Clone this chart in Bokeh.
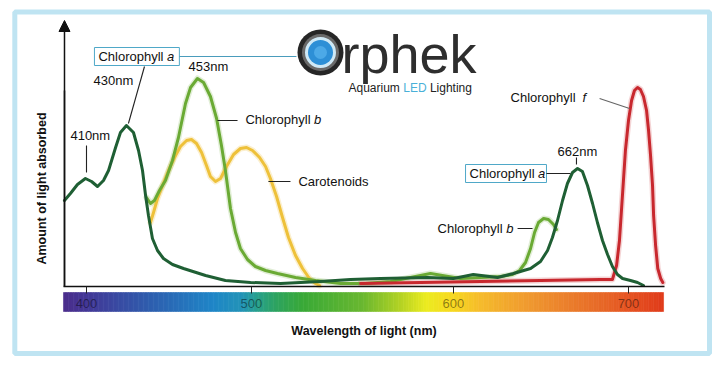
import numpy as np
from bokeh.plotting import figure
from bokeh.models import Range1d, FixedTicker, BoxAnnotation, Arrow, NormalHead
from bokeh.core.properties import value
from bokeh.embed import file_html
from bokeh.resources import INLINE

# ---------------- data (wavelength axis units, absorbance units) ----------------
chl_a_nm = [387.8, 391.1, 395.0, 399.4, 402.8, 406.1, 409.4, 412.2, 416.1, 418.8, 422.1, 426.0,
            428.8, 431.0, 432.7, 434.3, 436.5, 439.3, 442.6, 447.6, 453.7, 465.9, 476.9, 490.8,
            507.4, 529.5, 546.1, 562.7, 588.7, 603.1, 614.1, 627.5, 636.3, 645.8, 651.3, 655.2,
            657.9, 660.7, 663.5, 666.2, 669.0, 671.8, 674.5, 677.3, 680.1, 682.8, 685.6, 688.4,
            691.1, 693.9, 696.7, 701.1, 705.0, 708.3]
chl_a_abs = [43, 46.5, 51, 54, 52.5, 50, 53, 58, 69.5, 77, 80.5, 77,
             68, 58, 45.5, 35.5, 24, 18, 14, 11, 9, 5.5, 3, 2,
             1.5, 2.5, 3.5, 4, 4.5, 4, 6, 4.5, 6.5, 9, 12.5, 18,
             24.5, 33, 43, 51.5, 57, 59, 57.5, 50.5, 41.5, 32, 23, 16,
             10, 6, 4, 3, 2, 0.5]

chl_b_nm = [433.2, 435.4, 437.6, 440.4, 443.7, 447.6, 450.9, 454.8, 457.6, 461.4, 464.8, 468.6,
            472.0, 474.7, 476.9, 479.7, 482.5, 485.2, 489.1, 493.5, 499.1, 505.7, 515.7, 526.8,
            540.6, 554.4, 568.3, 579.3, 590.4, 600.3, 607.0, 618.1, 629.2, 635.8, 639.7, 643.0,
            645.8, 648.0, 650.2, 653.0, 655.7, 658.5, 660.1]
chl_b_abs = [44.5, 41.5, 43, 48, 53, 63, 74.5, 91.5, 99.5, 104, 102, 95,
             84, 70.5, 58, 39, 27, 19, 13.5, 10, 8, 6.5, 4.5, 3,
             1.5, 1.5, 2.5, 4.5, 6.5, 5, 4, 4.5, 5, 6, 8, 12,
             19, 27, 32, 34, 33.5, 31, 28.5]

carot_nm = [435.4, 437.1, 439.3, 442.1, 445.4, 448.7, 452.0, 455.4, 458.1, 460.9, 463.7, 466.4,
            468.6, 471.4, 474.2, 477.5, 481.4, 485.2, 488.6, 491.9, 495.8, 499.1, 501.8, 505.2,
            508.5, 511.8, 515.7, 519.6, 523.4, 526.8, 529.0]
carot_abs = [32, 37, 44, 50.5, 58, 64.5, 70, 73, 73.5, 71.5, 67, 60.5,
             55, 52.5, 54, 60, 66, 69, 69.5, 68, 64.5, 60, 54, 45,
             34.5, 24.5, 15.5, 9, 4, 1.5, 0.5]

chl_f_nm = [551.7, 584.9, 618.1, 651.3, 684.5, 691.1, 693.4, 695.0, 696.1, 697.2, 698.3, 700.0,
            701.7, 703.3, 705.0, 706.6, 708.3, 710.0, 711.1, 712.2, 713.3, 713.9, 715.0, 716.2,
            717.8, 719.0]
chl_f_abs = [1.5, 2, 2.5, 3, 3.5, 3.5, 10.5, 23, 38, 53, 68, 83,
             93, 98, 99.5, 98.5, 95, 88, 78, 65.5, 50.5, 35.5, 20.5, 9,
             4, 2]

tick_pos = [400, 491.3, 603.1, 700]
tick_labels = ["400", "500", "600", "700"]

spec_nm = [387, 400, 435, 470, 486, 494, 505, 520, 553, 575, 588, 603, 618, 646, 684, 700, 720]
spec_col = ["#4d2f8d", "#443897", "#2f5eae", "#1f86c8", "#2394b8", "#28a090", "#2ea460",
            "#3aaa38", "#6ab830", "#b8d424", "#ecec20", "#f8d820", "#f6bc2c", "#f09830",
            "#e86a28", "#e65422", "#e03a1a"]

FONT = "Liberation Sans"
F = value(FONT)

p = figure(width=725, height=371, output_backend="svg", toolbar_location=None,
           x_range=Range1d(352.40, 753.69), y_range=Range1d(-42.5, 143.0),
           min_border=0, min_border_left=0, min_border_right=0, min_border_top=0,
           min_border_bottom=0, outline_line_color=None,
           background_fill_color="white", border_fill_color="white")
p.grid.visible = False

# ---------------- frame border ----------------
p.add_layout(BoxAnnotation(left=360.31, right=744.83, top=137.25, bottom=-33.5,
                           fill_color=None, line_color="#2ba5d3", line_width=5))

# ---------------- spectrum bar ----------------
def hex2rgb(h):
    return np.array([int(h[i:i + 2], 16) for i in (1, 3, 5)], dtype=float)

edges = np.linspace(387.27, 719.4, 241)
mids = (edges[:-1] + edges[1:]) / 2
rgb = np.array([hex2rgb(c) for c in spec_col])
cols = []
for m in mids:
    r = np.interp(m, spec_nm, rgb[:, 0]); g = np.interp(m, spec_nm, rgb[:, 1]); b = np.interp(m, spec_nm, rgb[:, 2])
    cols.append("#%02x%02x%02x" % (int(r), int(g), int(b)))
p.quad(left=edges[:-1], right=edges[1:], top=-3, bottom=-12.5, fill_color=cols, line_color=cols, line_width=0.6)

# ---------------- curves ----------------
curves = [(carot_nm, carot_abs, "#eec13a", 0.25),
          (chl_b_nm, chl_b_abs, "#6aaa34", 0.2),
          (chl_f_nm, chl_f_abs, "#c8282e", 0.2),
          (chl_a_nm, chl_a_abs, "#1f5f34", 0.0)]
for xs, ys, c, ha in curves:
    if ha > 0:
        p.line(xs, ys, line_color=c, line_width=6, line_alpha=ha, line_join="round", line_cap="round")
for xs, ys, c, ha in curves:
    p.line(xs, ys, line_color=c, line_width=3, line_join="round", line_cap="round")

# ---------------- axes ----------------
xa = p.xaxis[0]
xa.fixed_location = 0
xa.bounds = (387.27, 719.93)
xa.ticker = FixedTicker(ticks=tick_pos)
xa.major_label_overrides = {t: l for t, l in zip(tick_pos, tick_labels)}
xa.minor_tick_line_color = None
xa.major_tick_in = 0
xa.major_tick_out = 7
xa.major_tick_line_color = "#222222"
xa.axis_line_color = "#111111"
xa.axis_line_width = 1.5
xa.major_label_standoff = 5
xa.major_label_text_font = FONT
xa.major_label_text_font_size = "13px"
xa.major_label_text_color = "black"
xa.major_label_text_alpha = 0.45
xa.axis_label = "Wavelength of light (nm)"
xa.axis_label_text_font = FONT
xa.axis_label_text_font_style = "bold"
xa.axis_label_text_font_size = "12.5px"
xa.axis_label_text_color = "#111111"
xa.axis_label_standoff = 13

ya = p.yaxis[0]
ya.fixed_location = 387.82
ya.bounds = (0, 98)
ya.ticker = FixedTicker(ticks=[])
ya.minor_tick_line_color = None
ya.major_tick_line_color = None
ya.major_tick_in = 0
ya.major_tick_out = 0
ya.axis_line_color = "#111111"
ya.axis_line_width = 1.5
ya.axis_label = "Amount of light absorbed"
ya.axis_label_text_font = FONT
ya.axis_label_text_font_style = "bold"
ya.axis_label_text_font_size = "12.5px"
ya.axis_label_text_color = "#111111"
ya.axis_label_standoff = 16

p.add_layout(Arrow(end=NormalHead(size=11, fill_color="#111111", line_color="#111111"),
                   x_start=387.82, y_start=0, x_end=387.82, y_end=133,
                   line_color="#111111", line_width=1.5))

# ---------------- annotations ----------------
p.quad(left=[404.4, 609.8], right=[451.4, 654.6], top=[119.5, 61], bottom=[110.5, 52],
       fill_color="white", line_color="#4fa8c8", line_width=1)
p.segment(x0=[451.4], y0=[115], x1=[516.2], y1=[115], line_color="#4a9cbc", line_width=1.2)
p.segment(x0=[432.1, 400, 472.5, 500.7, 671.2, 654.6, 638.6],
          y0=[110, 70.5, 83, 52.5, 64.5, 56.5, 29],
          x1=[423.2, 400, 483.6, 512.9, 671.2, 667.9, 646.9],
          y1=[81.5, 57, 83, 52.5, 61, 56.5, 29],
          line_color="#222222", line_width=1.1)
p.segment(x0=[684.0], y0=[94], x1=[700.6], y1=[89], line_color="#666666", line_width=1.2)

p.text(x=[403.9, 456.5, 391.1, 517.3, 660.7],
       y=[103, 110, 75.5, 52.5, 67.5],
       text=["430nm", "453nm", "410nm", "Carotenoids", "662nm"],
       text_font=F, text_font_size="13px", text_baseline="middle", text_color="#111111")
p.text(x=[406.6, 488.0, 634.7, 612.0, 594.3],
       y=[115, 83.5, 94.5, 56.5, 29],
       text=["Chlorophyll"] * 5,
       text_font=F, text_font_size="13px", text_baseline="middle", text_color="#111111")
p.text(x=[406.6, 488.0, 634.7, 612.0, 594.3],
       y=[115, 83.5, 94.5, 56.5, 29],
       text=["a", "b", "f", "a", "b"], x_offset=[68.6, 68.6, 72, 68.6, 68.6],
       text_font=F, text_font_size="13px", text_font_style="italic",
       text_baseline="middle", text_color="#111111")

# ---------------- logo ----------------
lx, ly = 529.52, 117
p.scatter([lx], [ly], size=46, fill_color="#262626", line_color=None)
p.scatter([lx], [ly], size=37, fill_color="#6a6a6a", line_color=None)
p.scatter([lx], [ly], size=31, fill_color="#cfe9f6", line_color=None)
p.scatter([lx], [ly], size=25, fill_color="#2d8fd6", line_color=None)
p.scatter([lx], [ly], size=13, fill_color="#5ab4ee", line_color=None, fill_alpha=0.7)
p.text(x=[541.14], y=[116.4], text=["rphek"], text_font=F, text_font_size="54px",
       text_baseline="middle", text_color="#2e2e2e")
p.text(x=[545.02] * 3, y=[99.5] * 3, text=["Aquarium", "LED", "Lighting"],
       x_offset=[0, 54.7, 81.4], text_font=F, text_font_size="12px",
       text_baseline="middle", text_color=["#222222", "#49b0d8", "#222222"])

open("out.html", "w").write(file_html(p, INLINE))
